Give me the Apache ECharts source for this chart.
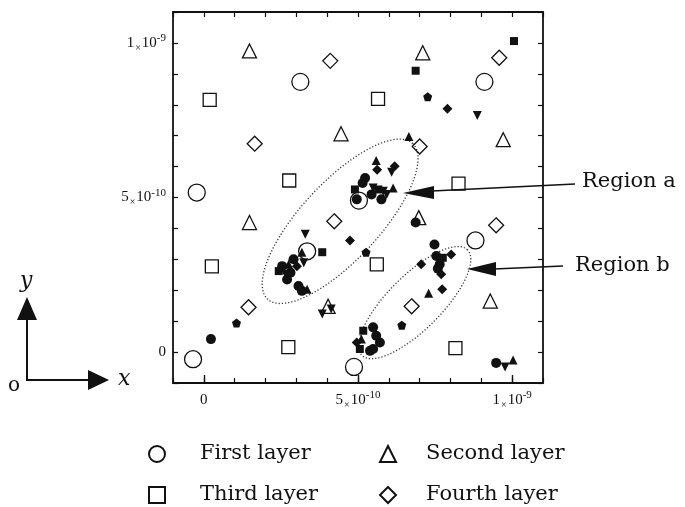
<!DOCTYPE html>
<html>
<head>
<meta charset="utf-8">
<script src="https://cdn.jsdelivr.net/npm/echarts@6/dist/echarts.min.js"></script>
<style>
  html, body { margin: 0; padding: 0; background: #fff; }
  #chart { width: 685px; height: 507px; }
</style>
</head>
<body>
<div id="chart"></div>
<script>
// all coordinates are in units of 1e-10
const firstLayer = [[-0.23, 5.16], [-0.35, -0.23], [3.13, 8.74], [3.35, 3.26], [5.03, 4.9], [4.87, -0.48], [8.81, 3.61], [9.1, 8.74]];
const secondLayer = [[1.48, 9.74], [4.45, 7.06], [7.1, 9.68], [9.71, 6.87], [1.48, 4.19], [4.03, 1.48], [6.97, 4.35], [9.29, 1.65]];
const thirdLayer = [[0.19, 8.16], [2.77, 5.55], [5.65, 8.19], [8.26, 5.45], [0.26, 2.77], [2.74, 0.16], [5.61, 2.84], [8.16, 0.13]];
const fourthLayer = [[4.1, 9.42], [1.65, 6.74], [9.58, 9.52], [7.0, 6.65], [1.45, 1.45], [4.23, 4.23], [9.48, 4.1], [6.74, 1.48]];

// filled markers (adatoms), grouped by symbol
const dotCircle = [[0.23, 0.42], [6.87, 4.19], [9.48, -0.35], [5.23, 5.63], [5.15, 5.47], [5.76, 4.94], [5.44, 5.1], [4.96, 4.94],
  [2.91, 3.0], [2.54, 2.78], [2.81, 2.57], [2.7, 2.35], [3.07, 2.14], [3.18, 1.98],
  [7.48, 3.48], [7.54, 3.11], [7.65, 2.84], [7.59, 2.7], [5.49, 0.8], [5.59, 0.53], [5.71, 0.31], [5.39, 0.04], [5.49, 0.1]];
const dotSquare = [[10.06, 10.06], [6.87, 9.1], [3.84, 3.23], [4.9, 5.26], [5.66, 5.26], [2.43, 2.62], [7.75, 3.05], [5.17, 0.69], [5.06, 0.1]];
const dotDiamond = [[7.9, 7.87], [4.74, 3.61], [6.19, 6.01], [5.62, 5.9], [3.02, 2.78], [8.02, 3.16], [7.05, 2.84], [7.7, 2.52], [7.73, 2.03], [4.96, 0.31]];
const dotTriUp = [[6.65, 6.97], [7.29, 1.9], [10.03, -0.26], [5.59, 6.2], [6.14, 5.31], [3.18, 3.23], [2.75, 2.84], [3.35, 2.03], [5.11, 0.42]];
const dotTriDown = [[8.87, 7.65], [3.84, 1.23], [4.13, 1.39], [3.29, 3.81], [9.77, -0.48], [6.09, 5.82], [5.49, 5.31], [5.82, 5.2], [5.93, 5.1], [3.24, 2.89], [2.65, 2.52]];
const dotPentagon = [[7.26, 8.26], [1.06, 0.94], [5.26, 3.23], [6.42, 0.87]];

// regions: center x, center y, half length, half width, angle (deg)
const regions = [[4.42, 4.23, 3.45, 1.26, 47], [6.84, 1.6, 2.42, 0.87, 45]];

const axisMin = -1, axisMax = 11;
const labelValues = [0, 5, 10];
const labelMantissa = ['0', '5', '1'];
const labelExp = ['', '-10', '-9'];

function tickLabel(v) {
  const i = labelValues.indexOf(Math.round(v * 1000) / 1000);
  if (i < 0) return '';
  if (!labelExp[i]) return '{n|' + labelMantissa[i] + '}';
  return '{n|' + labelMantissa[i] + '}{t|×}{n|10}{s|' + labelExp[i] + '}';
}
const labelRich = {
  n: { fontFamily: 'Liberation Serif', fontSize: 15, color: '#111', lineHeight: 20 },
  t: { fontFamily: 'Liberation Serif', fontSize: 10, color: '#111', verticalAlign: 'bottom', padding: [0, 1, 0, 1] },
  s: { fontFamily: 'Liberation Serif', fontSize: 11, color: '#111', verticalAlign: 'top' }
};

const ink = '#111';
const serif = 'DejaVu Serif';
const pentagon = 'path://M0,-10L9.5,-3.1L5.9,8.1L-5.9,8.1L-9.5,-3.1Z';

function baseAxis(pos, showLabel) {
  return {
    type: 'value', position: pos, min: axisMin, max: axisMax, interval: 1,
    axisLine: { show: true, onZero: false, lineStyle: { color: ink, width: 1.8 } },
    axisTick: { show: true, inside: true, length: 5, lineStyle: { color: ink, width: 1.2 } },
    axisLabel: { show: showLabel, formatter: tickLabel, rich: labelRich, margin: 7 },
    splitLine: { show: false }
  };
}

function openSeries(name, data, symbol, size) {
  return {
    name: name, type: 'scatter', data: data, symbol: symbol, symbolSize: size,
    itemStyle: { color: 'rgba(255,255,255,0)', borderColor: ink, borderWidth: 1.3, opacity: 1 },
    emphasis: { disabled: true }, z: 3
  };
}
function dotSeries(name, data, symbol, size, rotate) {
  return {
    name: name, type: 'scatter', data: data, symbol: symbol, symbolSize: size, symbolRotate: rotate || 0,
    itemStyle: { color: ink, opacity: 1 }, emphasis: { disabled: true }, z: 4
  };
}

const chart = echarts.init(document.getElementById('chart'), null, { renderer: 'canvas' });

function legendItem(name, left, top, pad) {
  return {
    data: [name], left: left, top: top, padding: 0,
    itemWidth: 16, itemHeight: 16, selectedMode: false,
    textStyle: { fontFamily: serif, fontSize: 21, color: ink, lineHeight: 24, padding: [0, 0, 0, pad] }
  };
}

const option = {
  backgroundColor: '#fff',
  animation: false,
  grid: { left: 173, right: 142, top: 12, bottom: 124 },
  xAxis: [
    baseAxis('bottom', true),
    baseAxis('top', false),
    Object.assign(baseAxis('bottom', false), {
      axisLine: { show: false, onZero: false },
      axisTick: { show: true, inside: true, length: 8, customValues: labelValues, lineStyle: { color: ink, width: 1.4 } }
    })
  ],
  yAxis: [
    baseAxis('left', true),
    baseAxis('right', false)
  ],
  legend: [
    legendItem('First layer', 148, 442, 30),
    legendItem('Third layer', 148, 483, 30),
    legendItem('Second layer', 379, 442, 25),
    legendItem('Fourth layer', 379, 483, 25)
  ],
  series: [
    {
      type: 'custom', data: regions, silent: true, z: 2,
      renderItem: function (params, api) {
        const c = api.coord([api.value(0), api.value(1)]);
        const unit = api.size([1, 1]);
        const a = api.value(2) * unit[0], b = api.value(3) * unit[1];
        const th = api.value(4) * Math.PI / 180;
        const ux = Math.cos(th), uy = -Math.sin(th);
        const vx = -Math.sin(th), vy = -Math.cos(th);
        const pts = [];
        for (let k = 0; k < 120; k++) {
          const t = k / 120 * Math.PI * 2;
          pts.push([c[0] + a * Math.cos(t) * ux + b * Math.sin(t) * vx,
                    c[1] + a * Math.cos(t) * uy + b * Math.sin(t) * vy]);
        }
        return {
          type: 'polygon', shape: { points: pts },
          style: { fill: 'none', stroke: '#333', lineWidth: 1.3, lineDash: [1.2, 2] }
        };
      }
    },
    openSeries('First layer', firstLayer, 'circle', 17),
    openSeries('Second layer', secondLayer, 'triangle', 14),
    openSeries('Third layer', thirdLayer, 'rect', 13),
    openSeries('Fourth layer', fourthLayer, 'diamond', 15),
    dotSeries('dot circle', dotCircle, 'circle', 10),
    dotSeries('dot square', dotSquare, 'rect', 8),
    dotSeries('dot diamond', dotDiamond, 'diamond', 10),
    dotSeries('dot up', dotTriUp, 'triangle', 9),
    dotSeries('dot down', dotTriDown, 'triangle', 9, 180),
    dotSeries('dot pentagon', dotPentagon, pentagon, 9)
  ],
  graphic: [
    // region arrows
    { type: 'line', shape: { x1: 432, y1: 191, x2: 575, y2: 184 }, style: { stroke: ink, lineWidth: 1.6 } },
    { type: 'polygon', shape: { points: [[403, 193], [434, 186], [434, 199]] }, style: { fill: ink } },
    { type: 'text', left: 582, top: 171, style: { text: 'Region a', font: '21px "DejaVu Serif"', fill: ink } },
    { type: 'line', shape: { x1: 494, y1: 269, x2: 563, y2: 266 }, style: { stroke: ink, lineWidth: 1.6 } },
    { type: 'polygon', shape: { points: [[467, 269], [496, 262], [496, 276]] }, style: { fill: ink } },
    { type: 'text', left: 575, top: 255, style: { text: 'Region b', font: '21px "DejaVu Serif"', fill: ink } },
    // coordinate inset
    { type: 'line', shape: { x1: 27, y1: 381, x2: 27, y2: 318 }, style: { stroke: ink, lineWidth: 2 } },
    { type: 'polygon', shape: { points: [[27, 297], [17, 320], [37, 320]] }, style: { fill: ink } },
    { type: 'line', shape: { x1: 26, y1: 380, x2: 90, y2: 380 }, style: { stroke: ink, lineWidth: 2 } },
    { type: 'polygon', shape: { points: [[109, 380], [88, 370], [88, 390]] }, style: { fill: ink } },
    { type: 'text', left: 20, top: 270, style: { text: 'y', font: 'italic 22px "DejaVu Serif"', fill: ink } },
    { type: 'text', left: 118, top: 368, style: { text: 'x', font: 'italic 22px "DejaVu Serif"', fill: ink } },
    { type: 'text', left: 8, top: 376, style: { text: 'o', font: '20px "DejaVu Serif"', fill: ink } }
  ]
};

chart.setOption(option);
window.addEventListener('resize', function () { chart.resize(); });
</script>
</body>
</html>
